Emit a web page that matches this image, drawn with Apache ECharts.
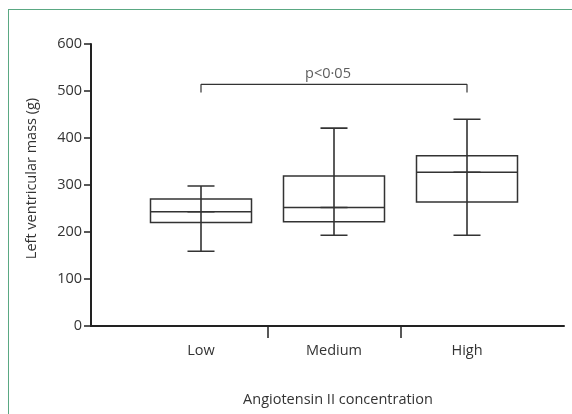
<!DOCTYPE html>
<html>
<head>
<meta charset="utf-8">
<script src="https://cdn.jsdelivr.net/npm/echarts@6/dist/echarts.min.js"></script>
<style>
html,body{margin:0;padding:0;background:#fff;}
#wrap{position:relative;width:572px;height:414px;overflow:hidden;}
#frame{position:absolute;left:8px;top:9px;right:-4px;bottom:-4px;border-top:1.5px solid #5aa883;border-left:1.5px solid #5aa883;}
#chart{position:absolute;left:0;top:0;width:572px;height:414px;}
</style>
</head>
<body>
<div id="wrap"><div id="frame"></div><div id="chart"></div></div>
<script>
// ---- data ----
const categories = ['Low', 'Medium', 'High'];
const whiskerMin = [159, 193, 193];
const q1 = [220, 222, 264];
const median = [243, 252, 327];
const q3 = [270, 319, 362];
const whiskerMax = [298, 421, 440];
const yTicks = [0, 100, 200, 300, 400, 500, 600];
const bracketFrom = 'Low';
const bracketTo = 'High';
const bracketTop = 514;
const bracketLeg = 497;
const bracketText = 'p<0·05';
const bracketTextAt = ['Medium', 536];
const yName = 'Left ventricular mass (g)';
const xName = 'Angiotensin II concentration';

// ---- build ----
const cats = categories.concat(['']);
const boxData = categories.map((c, i) => [q1[i], q1[i], median[i], q3[i], q3[i]]).concat([[]]);
const whiskData = categories.map((c, i) => [whiskerMin[i], median[i], median[i], median[i], whiskerMax[i]]).concat([[]]);
const FONT = '"Open Sans", sans-serif';
const FS = 14.5;
const TXT = '#333';
const LINE = '#222';

const chart = echarts.init(document.getElementById('chart'), null, {renderer: 'canvas'});
chart.setOption({
  animation: false,
  backgroundColor: 'transparent',
  title: {
    text: xName, left: 333, top: 387, textAlign: 'center',
    textStyle: {fontFamily: FONT, fontSize: FS, fontWeight: 'normal', color: TXT}
  },
  grid: [
    {left: 91, right: 8, top: 44, bottom: 88, outerBoundsMode: 'none', containLabel: false},
    {left: 134.5, width: 532, top: 44, bottom: 88, outerBoundsMode: 'none', containLabel: false}
  ],
  xAxis: [
    {gridIndex: 0, type: 'value', min: 0, max: 1,
     axisLine: {show: true, onZero: false, lineStyle: {color: LINE, width: 2}},
     axisTick: {show: false}, axisLabel: {show: false}, splitLine: {show: false}},
    {gridIndex: 1, type: 'category', data: cats, boundaryGap: true,
     axisLine: {show: false},
     axisTick: {show: true, length: 12, interval: (idx) => idx === 1 || idx === 2,
                lineStyle: {color: LINE, width: 1.5}},
     axisLabel: {show: true, margin: 17, fontFamily: FONT, fontSize: FS, color: TXT},
     splitLine: {show: false}},
    {gridIndex: 1, type: 'category', data: cats, boundaryGap: true, show: false}
  ],
  yAxis: [
    {gridIndex: 0, type: 'value', min: 0, max: 600, interval: 100,
     name: yName, nameLocation: 'middle', nameGap: 52, nameRotate: 90,
     nameTextStyle: {fontFamily: FONT, fontSize: FS, color: TXT, padding: [0, 0, 0, 13]},
     axisLine: {show: true, lineStyle: {color: LINE, width: 2}},
     axisTick: {show: true, length: 7, lineStyle: {color: LINE, width: 1.5}},
     axisLabel: {fontFamily: FONT, fontSize: FS, color: TXT, margin: 9},
     splitLine: {show: false}},
    {gridIndex: 1, type: 'value', min: 0, max: 600, interval: 100, show: false}
  ],
  series: [
    {type: 'boxplot', xAxisIndex: 1, yAxisIndex: 1, data: boxData,
     boxWidth: [101, 101],
     itemStyle: {color: 'transparent', borderColor: '#333', borderWidth: 1.5},
     emphasis: {disabled: true}},
    {type: 'boxplot', xAxisIndex: 2, yAxisIndex: 1, data: whiskData,
     boxWidth: [27, 27],
     itemStyle: {color: 'transparent', borderColor: '#333', borderWidth: 1.6},
     emphasis: {disabled: true}},
    {type: 'line', xAxisIndex: 1, yAxisIndex: 1, symbol: 'none',
     data: [[bracketFrom, bracketLeg], [bracketFrom, bracketTop], [bracketTo, bracketTop], [bracketTo, bracketLeg]],
     lineStyle: {color: '#333', width: 1.2}},
    {type: 'scatter', xAxisIndex: 1, yAxisIndex: 1, symbolSize: 0,
     data: [bracketTextAt],
     label: {show: true, position: 'inside', offset: [-6, 0], formatter: bracketText,
             fontFamily: FONT, fontSize: FS, color: TXT}}
  ]
});
</script>
</body>
</html>
